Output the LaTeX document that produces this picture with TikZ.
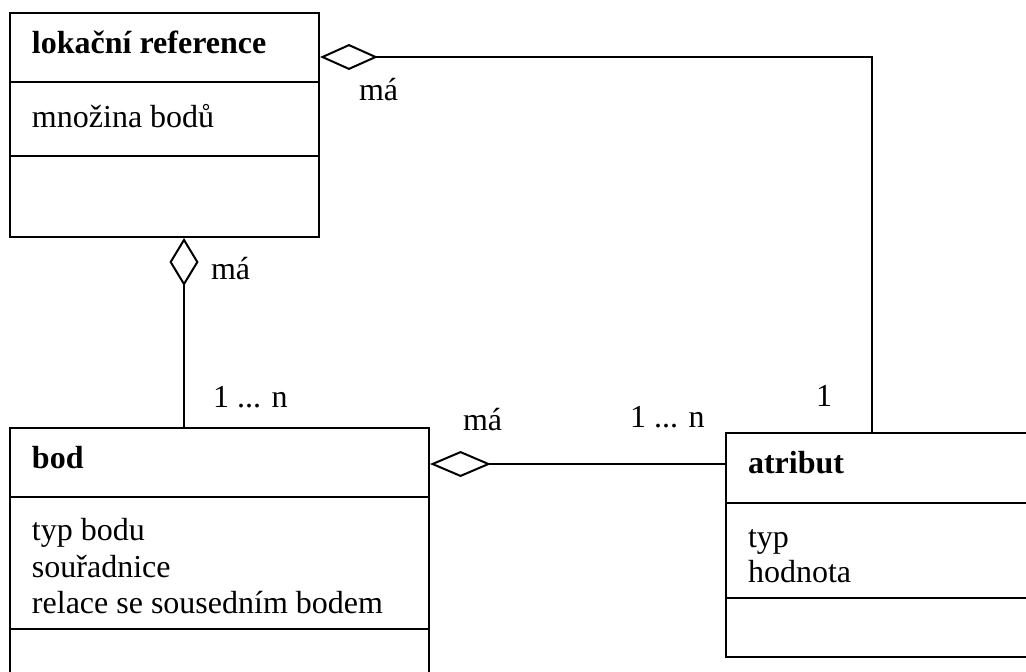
\documentclass[tikz,border=0pt]{standalone}
\usepackage{fontspec}
\setmainfont{Liberation Serif}
\usetikzlibrary{arrows.meta}
\tikzset{
  umlbox/.style={draw, rectangle, inner sep=0pt},
  txt/.style={anchor=base west, inner sep=0pt, font=\fontsize{16pt}{18pt}\selectfont},
  agg/.style={{Diamond[open,length=#1]}-},
  agg/.default={29pt,width=13pt}
}
\begin{document}
\begin{tikzpicture}[x=0.5pt, y=-0.5pt, line width=1pt]
	\useasboundingbox (0,0) rectangle (1026,671);
	\clip (0,0) rectangle (1026,671);
	% class boxes
	\node[umlbox, minimum width=154.5pt, minimum height=112pt] (lok) at (164.5,125) {};
	\node[umlbox, minimum width=209.5pt, minimum height=136pt] (bod) at (219.5,564) {};
	\node[umlbox, minimum width=172pt, minimum height=112pt] (atr) at (898,545) {};
	\draw (lok.west |- 0,82) -- (lok.east |- 0,82);
	\draw (lok.west |- 0,156) -- (lok.east |- 0,156);
	\draw (bod.west |- 0,497) -- (bod.east |- 0,497);
	\draw (bod.west |- 0,629) -- (bod.east |- 0,629);
	\draw (atr.west |- 0,503) -- (atr.east |- 0,503);
	\draw (atr.west |- 0,598) -- (atr.east |- 0,598);
	\node[txt, font=\fontsize{16pt}{18pt}\selectfont\bfseries] (lokname) at (31,53) {lokační reference};
	\node[txt] (lokattr) at (31,127) {množina bodů};
	\node[txt, font=\fontsize{16pt}{18pt}\selectfont\bfseries] (bodname) at (31,468) {bod};
	\node[txt] (bodattra) at (31,540) {typ bodu};
	\node[txt] (bodattrb) at (31,577) {souřadnice};
	\node[txt] (bodattrc) at (31,613) {relace se sousedním bodem};
	\node[txt, font=\fontsize{16pt}{18pt}\selectfont\bfseries] (atrname) at (747,473) {atribut};
	\node[txt] (atrattra) at (747,547) {typ};
	\node[txt] (atrattrb) at (747,582) {hodnota};
	% aggregations
	\coordinate (knee) at (872,57);
	\draw[agg] (lok.east |- knee) -- (knee) -- (knee |- atr.north);
	\draw[agg={24pt,width=14.5pt}] (lok.south -| 184,0) -- (bod.north -| 184,0);
	\draw[agg={30.5pt,width=13pt}] (bod.east |- 0,464) -- (atr.west |- 0,464);
	\node[txt] (maa) at (358,100) {má};
	\node[txt] (mab) at (210,279) {má};
	\node[txt] (mac) at (462,430) {má};
	\node[txt] (multa) at (212,407) {1 ... n};
	\node[txt] (multb) at (629,427) {1 ... n};
	\node[txt] (multc) at (815,406) {1};
\end{tikzpicture}
\end{document}
